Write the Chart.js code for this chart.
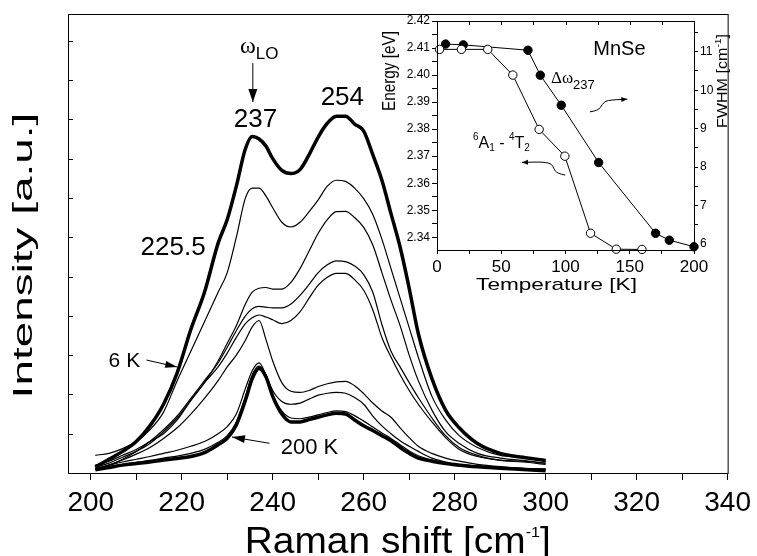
<!DOCTYPE html>
<html>
<head>
<meta charset="utf-8">
<script src="https://cdn.jsdelivr.net/npm/chart.js@4.4.1/dist/chart.umd.min.js"></script>
<style>
  body { margin: 0; background: #fff; }
  #wrap { position: relative; width: 757px; height: 556px; }
  #main { position: absolute; left: 0; top: 0; }
  #inset { position: absolute; left: 378px; top: 0; }
</style>
</head>
<body>
<div id="wrap">
  <canvas id="main" width="757" height="556"></canvas>
  <canvas id="inset" width="357" height="300"></canvas>
</div>
<script>
// Espectros Raman (intensidad en u.a.), de 6 K (arriba) a 200 K (abajo)
const ramanShift = [201, 204, 207, 210, 213, 216, 219, 222, 225, 228, 230, 232, 234, 235.5, 237, 238.5, 240, 242, 244, 246,
                    248, 250, 252, 254, 256, 258, 260, 262, 264, 266, 268, 270, 272, 275, 278, 281, 285, 290, 295, 300];
const int6K = [0.15, 0.35, 0.55, 0.8, 1.2, 1.75, 2.55, 3.65, 4.6, 5.85, 6.45, 7.3, 8.25, 8.56, 8.5, 8.32, 8.0, 7.7, 7.62, 7.72,
               8.1, 8.55, 8.9, 9.08, 9.08, 8.88, 8.7, 8.1, 7.45, 6.6, 5.75, 4.7, 3.55, 2.4, 1.6, 1.15, 0.75, 0.5, 0.4, 0.32];
const intB = [0.45, 0.5, 0.62, 0.8, 1.1, 1.55, 2.35, 3.1, 3.85, 4.6, 5.1, 6.0, 7.0, 7.25, 7.25, 7.05, 6.75, 6.38, 6.26, 6.38,
              6.65, 6.95, 7.3, 7.45, 7.42, 7.25, 6.98, 6.58, 5.95, 5.2, 4.45, 3.7, 2.95, 1.95, 1.35, 0.95, 0.65, 0.45, 0.4, 0.3];
const intC = [0.2, 0.3, 0.45, 0.6, 0.8, 1.0, 1.35, 1.85, 2.3, 2.85, 3.3, 3.75, 4.3, 4.6, 4.7, 4.72, 4.68, 4.68, 4.85, 5.2,
              5.65, 6.1, 6.45, 6.65, 6.66, 6.5, 6.25, 5.8, 5.1, 4.4, 3.75, 3.0, 2.35, 1.6, 1.05, 0.75, 0.5, 0.38, 0.32, 0.25];
const intD = [0.1, 0.2, 0.35, 0.55, 0.8, 1.1, 1.45, 1.9, 2.35, 2.8, 3.2, 3.62, 4.0, 4.18, 4.24, 4.22, 4.2, 4.2, 4.3, 4.52,
              4.8, 5.1, 5.3, 5.4, 5.38, 5.27, 5.05, 4.6, 3.78, 3.1, 2.7, 2.3, 1.92, 1.4, 0.95, 0.65, 0.45, 0.32, 0.28, 0.22];
const intE = [0.15, 0.25, 0.4, 0.55, 0.75, 1.05, 1.4, 1.85, 2.3, 2.7, 3.05, 3.45, 3.8, 3.95, 4.02, 3.97, 3.9, 3.8, 3.88, 4.1,
              4.45, 4.78, 4.98, 5.08, 5.08, 4.92, 4.65, 4.15, 3.45, 2.95, 2.5, 2.1, 1.75, 1.3, 0.9, 0.6, 0.42, 0.33, 0.3, 0.25];
const intF = [0.1, 0.2, 0.33, 0.48, 0.65, 0.88, 1.15, 1.5, 1.9, 2.35, 2.7, 3.0, 3.38, 3.72, 3.88, 3.4, 2.85, 2.3, 2.08, 2.05,
              2.1, 2.2, 2.27, 2.32, 2.33, 2.22, 2.02, 1.78, 1.58, 1.42, 1.15, 0.9, 0.68, 0.5, 0.38, 0.3, 0.22, 0.16, 0.12, 0.1];
const intG = [0.12, 0.2, 0.28, 0.35, 0.42, 0.5, 0.58, 0.68, 0.8, 1.0, 1.18, 1.5, 2.15, 2.6, 2.8, 2.5, 2.1, 1.82, 1.75, 1.78,
              1.88, 1.98, 2.03, 2.05, 2.03, 1.92, 1.75, 1.45, 1.2, 1.0, 0.82, 0.68, 0.55, 0.38, 0.28, 0.2, 0.16, 0.13, 0.12, 0.1];
const intH = [0.1, 0.16, 0.22, 0.27, 0.32, 0.38, 0.43, 0.5, 0.6, 0.78, 0.95, 1.3, 1.95, 2.5, 2.72, 2.5, 2.0, 1.58, 1.4, 1.38,
              1.42, 1.48, 1.54, 1.58, 1.56, 1.46, 1.32, 1.17, 1.02, 0.88, 0.72, 0.56, 0.44, 0.33, 0.26, 0.22, 0.18, 0.14, 0.11, 0.09];
const int200K = [0.08, 0.14, 0.2, 0.24, 0.28, 0.33, 0.37, 0.42, 0.52, 0.72, 0.88, 1.22, 1.85, 2.4, 2.66, 2.45, 1.95, 1.5, 1.3, 1.3,
                 1.36, 1.42, 1.48, 1.52, 1.5, 1.35, 1.2, 1.08, 0.95, 0.82, 0.65, 0.5, 0.38, 0.3, 0.24, 0.2, 0.16, 0.12, 0.09, 0.06];

const ramanTicks = [200, 210, 220, 230, 240, 250, 260, 270, 280, 290, 300, 310, 320, 330, 340];
const intensityTicks = [1, 2, 3, 4, 5, 6, 7, 8, 9, 10, 11];

// Inserto: energia 6A1-4T2 y FWHM del modo 237 frente a temperatura
const tempEnergy = [2, 19, 39.5, 59, 79.5, 99.5, 119.5, 139.5, 159.5];
const energy = [2.4095, 2.4095, 2.4095, 2.4000, 2.3799, 2.3700, 2.3415, 2.3356, 2.3355];
const tempFwhm = [6.7, 20.5, 70.8, 80.4, 96.7, 125.8, 170.1, 180.8, 200];
const fwhm = [11.2, 11.18, 11.04, 10.39, 9.61, 8.12, 6.28, 6.10, 5.93];

const tempTicks = [0, 50, 100, 150, 200];
const energyTicks = [2.34, 2.35, 2.36, 2.37, 2.38, 2.39, 2.40, 2.41, 2.42];
const fwhmTicks = [6, 7, 8, 9, 10, 11];

const SANS = '"Liberation Sans", Arial, sans-serif';
const SERIF = '"Liberation Serif", "Times New Roman", serif';
Chart.defaults.font.family = SANS;
Chart.defaults.color = '#000';

// Texto con sub/superindices, opcionalmente girado y estirado
function drawText(ctx, parts, x, y, opt = {}) {
  const align = opt.align || 'left';
  ctx.save();
  ctx.translate(x, y);
  if (opt.rotate) ctx.rotate(opt.rotate);
  ctx.scale(opt.sx || 1, 1);
  ctx.textBaseline = 'alphabetic';
  ctx.textAlign = 'left';
  ctx.fillStyle = '#000';
  let total = 0;
  const widths = parts.map(p => { ctx.font = p.font; const w = ctx.measureText(p.text).width; total += w; return w; });
  let cx = align === 'center' ? -total / 2 : align === 'right' ? -total : 0;
  parts.forEach((p, i) => { ctx.font = p.font; ctx.fillText(p.text, cx, p.dy || 0); cx += widths[i]; });
  ctx.restore();
}

function arrow(ctx, pts, head, half) {
  ctx.save();
  ctx.strokeStyle = '#000'; ctx.fillStyle = '#000'; ctx.lineWidth = 1;
  ctx.beginPath();
  ctx.moveTo(pts[0][0], pts[0][1]);
  for (let i = 1; i < pts.length - 1; i++) {
    const mx = (pts[i][0] + pts[i + 1][0]) / 2, my = (pts[i][1] + pts[i + 1][1]) / 2;
    ctx.quadraticCurveTo(pts[i][0], pts[i][1], mx, my);
  }
  const [x1, y1] = pts[pts.length - 2], [x2, y2] = pts[pts.length - 1];
  ctx.lineTo(x2, y2);
  ctx.stroke();
  const a = Math.atan2(y2 - y1, x2 - x1), c = Math.cos(a), s = Math.sin(a);
  ctx.beginPath();
  ctx.moveTo(x2, y2);
  ctx.lineTo(x2 - head * c + half * s, y2 - head * s - half * c);
  ctx.lineTo(x2 - head * c - half * s, y2 - head * s + half * c);
  ctx.closePath();
  ctx.fill();
  ctx.restore();
}

const mainDecor = {
  id: 'mainDecor',
  afterDraw(chart) {
    const { ctx, chartArea: a, scales: { x, y } } = chart;
    const P = (vx, vy) => [x.getPixelForValue(vx), y.getPixelForValue(vy)];
    ctx.save();
    ctx.strokeStyle = '#000';
    ctx.lineWidth = 1;
    ctx.strokeRect(a.left + 0.5, a.top + 0.5, a.right - a.left, a.bottom - a.top);
    ctx.beginPath();
    intensityTicks.forEach(v => {
      const yy = Math.round(y.getPixelForValue(v)) + 0.5;
      ctx.moveTo(a.left, yy); ctx.lineTo(a.left + 5, yy);
    });
    ctx.stroke();
    ctx.restore();

    // titulos de ejes
    drawText(ctx, [{ text: 'Intensity [a.u.]', font: `27px ${SANS}` }], a.left - 36, (a.top + a.bottom) / 2 + 12,
      { align: 'center', rotate: -Math.PI / 2, sx: 1.7 });
    drawText(ctx, [
      { text: 'Raman shift [cm', font: `36px ${SANS}` },
      { text: '-1', font: `15px ${SANS}`, dy: -16 },
      { text: ']', font: `36px ${SANS}` }
    ], (a.left + a.right) / 2, a.bottom + 80, { align: 'center', sx: 1.08 });

    // etiquetas de picos
    let p = P(236.2, 8.80); drawText(ctx, [{ text: '237', font: `26px ${SANS}` }], p[0], p[1], { align: 'center' });
    p = P(255.3, 9.36); drawText(ctx, [{ text: '254', font: `26px ${SANS}` }], p[0], p[1], { align: 'center' });
    p = P(218.1, 5.55); drawText(ctx, [{ text: '225.5', font: `26px ${SANS}` }], p[0], p[1], { align: 'center' });
    p = P(236.28, 10.69); drawText(ctx, [{ text: 'ω', font: `24px ${SERIF}` }], p[0], p[1], { align: 'right' });
    p = P(236.28, 10.53); drawText(ctx, [{ text: 'LO', font: `17px ${SANS}` }], p[0], p[1]);
    arrow(ctx, [P(235.63, 10.43), P(235.63, 9.44)], 13, 4.5);
    p = P(203.93, 2.70); drawText(ctx, [{ text: '6 K', font: `21px ${SANS}` }], p[0], p[1]);
    arrow(ctx, [P(212.24, 2.875), P(219.0, 2.697)], 12, 3.5);
    p = P(241.75, 0.483); drawText(ctx, [{ text: '200 K', font: `22px ${SANS}` }], p[0], p[1]);
    arrow(ctx, [P(239.28, 0.756), P(231.04, 0.916)], 13, 4);
  }
};

const spectra = [
  { label: '6 K', values: int6K, width: 3.5 },
  { label: 'B', values: intB, width: 1.2 },
  { label: 'C', values: intC, width: 1.2 },
  { label: 'D', values: intD, width: 1.2 },
  { label: 'E', values: intE, width: 1.2 },
  { label: 'F', values: intF, width: 1.2 },
  { label: 'G', values: intG, width: 1.2 },
  { label: 'H', values: intH, width: 1.2 },
  { label: '200 K', values: int200K, width: 3.5 }
];

new Chart(document.getElementById('main'), {
  type: 'line',
  data: {
    datasets: spectra.map(s => ({
      label: s.label,
      data: ramanShift.map((v, i) => ({ x: v, y: s.values[i] })),
      borderColor: '#000',
      borderWidth: s.width,
      pointRadius: 0,
      fill: false,
      cubicInterpolationMode: 'monotone'
    }))
  },
  options: {
    responsive: false,
    animation: false,
    devicePixelRatio: 1,
    layout: { padding: { top: 14, right: 25, left: 0, bottom: 0 } },
    plugins: { legend: { display: false }, tooltip: { enabled: false } },
    scales: {
      x: {
        type: 'linear', min: 195, max: 340,
        afterBuildTicks: s => { s.ticks = ramanTicks.map(v => ({ value: v })); },
        ticks: { callback: v => (v % 20 === 0 ? String(v) : ''), font: { size: 28 }, padding: 6, autoSkip: false, maxRotation: 0 },
        grid: { drawOnChartArea: false, tickLength: 7, color: '#000' },
        border: { display: false },
        afterFit: s => { s.height = 83; }
      },
      y: {
        min: 0, max: 11.68,
        ticks: { display: false },
        grid: { display: false },
        border: { display: false },
        afterFit: s => { s.width = 68; }
      }
    }
  },
  plugins: [mainDecor]
});

const insetDecor = {
  id: 'insetDecor',
  afterDraw(chart) {
    const { ctx, chartArea: a, scales: { x, y } } = chart;
    const P = (vx, vy) => [x.getPixelForValue(vx), y.getPixelForValue(vy)];
    ctx.save();
    ctx.strokeStyle = '#000';
    ctx.lineWidth = 1;
    ctx.strokeRect(a.left + 0.5, a.top + 0.5, a.right - a.left, a.bottom - a.top);
    ctx.beginPath();
    x.ticks.forEach(t => {
      const xx = Math.round(x.getPixelForValue(t.value)) + 0.5;
      ctx.moveTo(xx, a.top); ctx.lineTo(xx, a.top + 4);
    });
    ctx.stroke();
    ctx.restore();

    drawText(ctx, [{ text: 'Energy [eV]', font: `18px ${SANS}` }], a.left - 42, a.top + 50,
      { align: 'center', rotate: -Math.PI / 2, sx: 0.85 });
    drawText(ctx, [
      { text: 'FWHM [cm', font: `14px ${SANS}` },
      { text: '-1', font: `9px ${SANS}`, dy: -6 },
      { text: ']', font: `14px ${SANS}` }
    ], a.right + 33, a.top + 60, { align: 'center', rotate: -Math.PI / 2, sx: 1.15 });
    drawText(ctx, [{ text: 'Temperature [K]', font: `17px ${SANS}` }], (a.left + a.right) / 2 - 9, a.bottom + 40,
      { align: 'center', sx: 1.33 });

    let p = P(121.6, 2.4073); drawText(ctx, [{ text: 'MnSe', font: `20px ${SANS}` }], p[0], p[1]);
    p = P(88.7, 2.3969);
    drawText(ctx, [
      { text: 'Δω', font: `17px ${SERIF}` },
      { text: '237', font: `13px ${SANS}`, dy: 6 }
    ], p[0], p[1]);
    p = P(28.0, 2.3729);
    drawText(ctx, [
      { text: '6', font: `10px ${SANS}`, dy: -8 },
      { text: 'A', font: `16px ${SANS}` },
      { text: '1', font: `10px ${SANS}`, dy: 3 },
      { text: ' - ', font: `16px ${SANS}` },
      { text: '4', font: `10px ${SANS}`, dy: -8 },
      { text: 'T', font: `16px ${SANS}` },
      { text: '2', font: `10px ${SANS}`, dy: 3 }
    ], p[0], p[1]);
    arrow(ctx, [P(119.0, 2.3864), P(125.5, 2.3868), P(128.6, 2.3892), P(131.8, 2.3907), P(148.1, 2.3911)], 6, 2.5);
    arrow(ctx, [P(99.8, 2.3630), P(93.4, 2.3636), P(90.7, 2.3655), P(89.5, 2.3671), P(83.0, 2.3679), P(66.1, 2.3677)], 6, 2.5);
  }
};

const withMinor = (majors, half, lo, hi) => {
  const out = [];
  majors.forEach(v => { out.push(v); });
  majors.forEach(v => { [v - half, v + half].forEach(m => { if (m > lo && m < hi && !out.some(o => Math.abs(o - m) < 1e-9)) out.push(m); }); });
  return out.sort((p, q) => p - q).map(v => ({ value: v }));
};
const majorLabel = (majors, digits) => v => {
  const m = majors.find(e => Math.abs(e - v) < 1e-6);
  return m === undefined ? '' : m.toFixed(digits);
};

new Chart(document.getElementById('inset'), {
  type: 'line',
  data: {
    datasets: [
      {
        label: '6A1 - 4T2',
        data: tempEnergy.map((v, i) => ({ x: v, y: energy[i] })),
        yAxisID: 'y',
        borderColor: '#000', borderWidth: 1, tension: 0,
        pointRadius: 4.2, pointBackgroundColor: '#fff', pointBorderColor: '#000', pointBorderWidth: 1,
        clip: false
      },
      {
        label: 'Δω237',
        data: tempFwhm.map((v, i) => ({ x: v, y: fwhm[i] })),
        yAxisID: 'y1',
        borderColor: '#000', borderWidth: 1, tension: 0,
        pointRadius: 4.2, pointBackgroundColor: '#000', pointBorderColor: '#000', pointBorderWidth: 1,
        clip: false
      }
    ]
  },
  options: {
    responsive: false,
    animation: false,
    devicePixelRatio: 1,
    layout: { padding: { top: 21, right: 0, left: 0, bottom: 0 } },
    plugins: { legend: { display: false }, tooltip: { enabled: false } },
    scales: {
      x: {
        type: 'linear', min: 0, max: 200,
        afterBuildTicks: s => { s.ticks = withMinor(tempTicks, 25, -1, 201); },
        ticks: { callback: majorLabel(tempTicks, 0), font: { size: 17 }, padding: 3, autoSkip: false, maxRotation: 0 },
        grid: { drawOnChartArea: false, tickLength: 4, color: '#000' },
        border: { display: false },
        afterFit: s => { s.height = 50; }
      },
      y: {
        position: 'left', min: 2.3353, max: 2.42,
        afterBuildTicks: s => { s.ticks = withMinor(energyTicks, 0.005, 2.3353, 2.4201); },
        ticks: { callback: majorLabel(energyTicks, 2), font: { size: 12 }, padding: 2, autoSkip: false },
        grid: { drawOnChartArea: false, tickLength: 5, color: '#000' },
        border: { display: false },
        afterFit: s => { s.width = 59; }
      },
      y1: {
        position: 'right', min: 5.845, max: 11.8,
        afterBuildTicks: s => { s.ticks = withMinor(fwhmTicks, 0.5, 5.845, 11.8); },
        ticks: { callback: majorLabel(fwhmTicks, 0), font: { size: 12 }, padding: 2, autoSkip: false },
        grid: { drawOnChartArea: false, tickLength: 4, color: '#000' },
        border: { display: false },
        afterFit: s => { s.width = 41; }
      }
    }
  },
  plugins: [insetDecor]
});
</script>
</body>
</html>
